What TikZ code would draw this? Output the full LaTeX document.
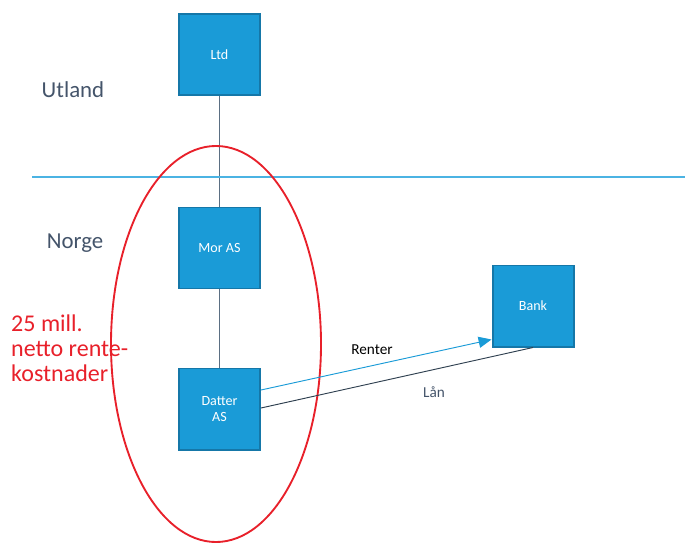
\documentclass[tikz,border=0pt]{standalone}
\usepackage{fontspec}
\setmainfont{Carlito}
\usepackage{xcolor}
\usetikzlibrary{arrows.meta,positioning,calc}
\definecolor{boxfill}{HTML}{1A9BD7}
\definecolor{boxedge}{HTML}{1577A8}
\definecolor{slate}{HTML}{44546A}
\definecolor{linkgray}{HTML}{5B6F83}
\definecolor{sky}{HTML}{4BB3E3}
\definecolor{loanline}{HTML}{2F4050}
\definecolor{alarm}{HTML}{E8202A}

\begin{document}
\begin{tikzpicture}[x=0.03cm,y=-0.03cm,font=\fontsize{12}{14}\selectfont,
  co/.style={draw=boxedge,fill=boxfill,line width=1.7pt,minimum width=2.43cm,minimum height=2.43cm,align=center,text=white,inner sep=2pt},
  zone/.style={text=slate,font=\fontsize{19.5}{22}\selectfont},
  lab/.style={font=\fontsize{13}{15}\selectfont},
  ar/.style={-{Triangle[length=11pt,width=9.5pt]},draw=boxfill,line width=0.8pt}]

\useasboundingbox (0,0) rectangle (685,543);

\node[co] (ltd) at (219.5,54.5) {Ltd};
\node[co] (mor) at (219.5,248) {Mor AS};
\node[co] (datter) at (219.5,409) {Datter\\AS};
\node[co] (bank) at (533,306) {Bank};
\draw[linkgray,line width=0.8pt] (ltd)--(mor); \draw[linkgray,line width=0.8pt] (mor)--(datter);

\node[zone] (utland) at (73,90) {Utland};
\node[zone] (norge) at (75,243) {Norge};
\coordinate (border-w) at (32,177);
\coordinate (border-e) at (685,177);
\draw[sky,line width=0.9pt] (border-w)--(border-e);

\draw[alarm,line width=1.6pt] (216,344) ellipse [x radius=3.15cm,y radius=5.94cm];
\node[text=alarm,align=left,anchor=west,font=\fontsize{20.5}{21.5}\selectfont,inner sep=0pt] (cost) at (11,348) {25 mill.\\netto rente-\\kostnader};

\draw[ar] ($(datter.east)+(0,-19)$) -- ($(bank.south west)+(0,-8)$);
\draw[loanline,line width=0.8pt] ($(datter.east)+(0,-1)$) -- (bank.south);
\node[lab] (renter) at (372,350) {Renter};
\node[lab,text=slate] (laan) at (434,392) {Lån};
\end{tikzpicture}
\end{document}
